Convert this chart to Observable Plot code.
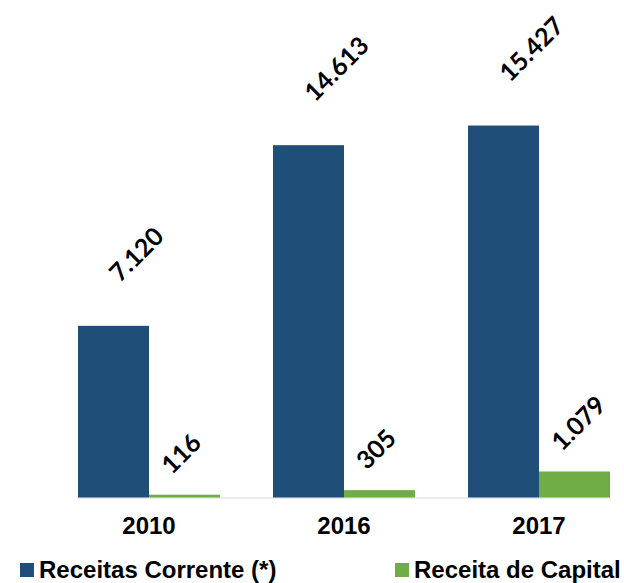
<!DOCTYPE html>
<html>
<head>
<meta charset="utf-8">
<script src="https://cdn.jsdelivr.net/npm/d3@7"></script>
<script src="https://cdn.jsdelivr.net/npm/@observablehq/plot@0.6"></script>
<style>
  html, body { margin: 0; padding: 0; background: #fff; }
  #wrap { width: 624px; height: 583px; position: relative; overflow: hidden; }
  #legend { position: relative; height: 38px; font-family: "Liberation Sans", Arial, sans-serif; font-weight: bold; font-size: 24px; color: #000; }
  .item { position: absolute; top: 6px; height: 38px; display: flex; align-items: center; white-space: nowrap; }
  .sw { width: 14px; height: 14px; margin-right: 5px; display: inline-block; }
</style>
</head>
<body>
<div id="wrap">
  <div id="chart"></div>
  <div id="legend"></div>
</div>
<script>
const years = ["2010", "2016", "2017"];
const seriesNames = ["Receitas Corrente (*)", "Receita de Capital"];
const receitasCorrentes = [7120, 14613, 15427];
const receitaCapital = [116, 305, 1079];
const colors = ["#1F4E79", "#70AD47"];

const data = years.flatMap((y, i) => [
  {year: y, series: seriesNames[0], value: receitasCorrentes[i]},
  {year: y, series: seriesNames[1], value: receitaCapital[i]}
]);

const fmt = d3.formatLocale({decimal: ",", thousands: ".", grouping: [3], currency: ["", ""]}).format(",d");

const labelFont = "Lato, 'Open Sans', sans-serif";

const chart = Plot.plot({
  width: 624,
  height: 545,
  marginLeft: 48,
  marginRight: 0,
  marginTop: 0,
  marginBottom: 47.5,
  fx: {domain: years, paddingInner: 0.2685, paddingOuter: 0.107, align: 0.667, label: null},
  x: {domain: seriesNames, padding: 0, axis: null},
  y: {domain: [0, 20634], axis: null},
  color: {domain: seriesNames, range: colors},
  marks: [
    Plot.frame({anchor: "bottom", facet: "super", stroke: "#d9d9d9", strokeWidth: 1.2}),
    Plot.barY(data, {fx: "year", x: "series", y: "value", fill: "series"}),
    Plot.text(data.filter(d => d.series === seriesNames[0]), {
      fx: "year", x: "series", y: "value", text: d => fmt(d.value),
      rotate: -45, textAnchor: "start", lineAnchor: "bottom",
      dx: 6, dy: -43, fontSize: 25, fontWeight: "bold", fontFamily: labelFont, fill: "#000"
    }),
    Plot.text(data.filter(d => d.series === seriesNames[1]), {
      fx: "year", x: "series", y: "value", text: d => fmt(d.value),
      rotate: -45, textAnchor: "start", lineAnchor: "bottom",
      dx: -13, dy: -20, fontSize: 25, fontWeight: "bold", fontFamily: labelFont, fill: "#000"
    }),
    Plot.axisFx({anchor: "bottom", tickSize: 0, tickPadding: 19, label: null,
      fontSize: 24, fontWeight: "bold", fontFamily: "'Liberation Sans', Arial, sans-serif", fill: "#000"})
  ]
});
document.getElementById("chart").appendChild(chart);

const legend = document.getElementById("legend");
const lefts = [20, 395];
seriesNames.forEach((name, i) => {
  const item = document.createElement("div");
  item.className = "item";
  item.style.left = lefts[i] + "px";
  const sw = document.createElement("span");
  sw.className = "sw";
  sw.style.background = colors[i];
  item.appendChild(sw);
  item.appendChild(document.createTextNode(name));
  legend.appendChild(item);
});
</script>
</body>
</html>
